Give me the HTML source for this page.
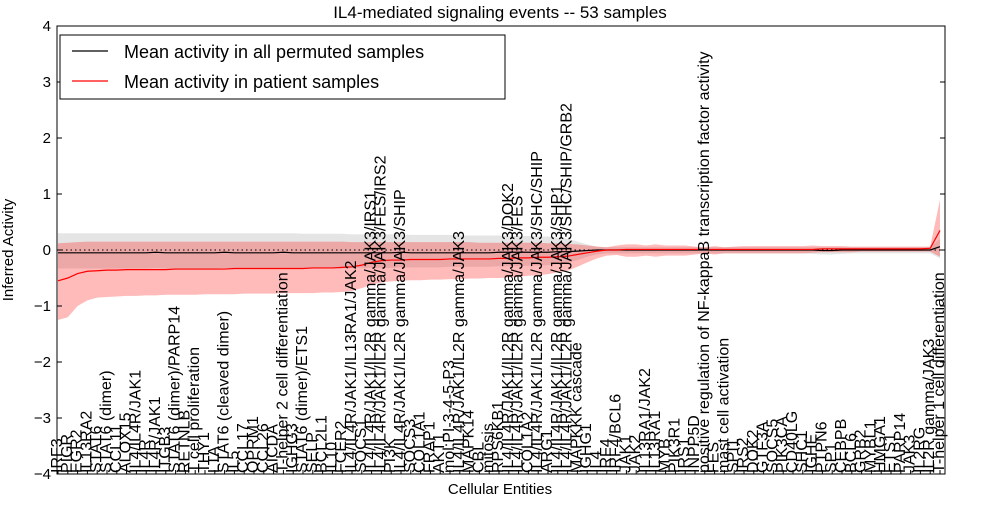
<!DOCTYPE html>
<html><head><meta charset="utf-8"><style>
body{margin:0;background:#fff;width:1000px;height:500px;overflow:hidden;font-family:"Liberation Sans",sans-serif}
</style></head><body>
<svg id="chart" width="1000" height="500" xmlns="http://www.w3.org/2000/svg" font-family="Liberation Sans, sans-serif">
<text x="500" y="18" font-size="17" text-anchor="middle">IL4-mediated signaling events -- 53 samples</text>
<g id="bands"></g><g id="lines"></g><g id="axes"></g>
<text x="500" y="494" font-size="15" text-anchor="middle">Cellular Entities</text>
<text transform="translate(13,250) rotate(-90)" font-size="15" text-anchor="middle">Inferred Activity</text>
<g>
<rect x="60" y="35" width="445" height="64" fill="#fff" stroke="#000" stroke-width="1"/>
<line x1="72" y1="51" x2="108" y2="51" stroke="#000" stroke-width="1.2"/>
<text x="124" y="58" font-size="18">Mean activity in all permuted samples</text>
<line x1="72" y1="81" x2="108" y2="81" stroke="red" stroke-width="1.2"/>
<text x="124" y="88" font-size="18">Mean activity in patient samples</text>
</g>
</svg>
<script>
const categories=["IRF3","PIGR","EGR2","IL13RA2","STAT6","STAT6 (dimer)","CCL11","ALOX15","IL4/IL4R/JAK1","IL4R","IL4R/JAK1","ITGB3","STAT6 (dimer)/PARP14","RETNLB","T cell proliferation","THY1","LTA","STAT6 (cleaved dimer)","IL5","CCL17","OPRM1","CCL26","AICDA","T-helper 2 cell differentiation","IGHG3","STAT6 (dimer)/ETS1","SELP","BCL2L1","IL10","FCER2","IL4/IL4R/JAK1/IL13RA1/JAK2","SOCS1","IL4/IL4R/JAK1/IL2R gamma/JAK3/IRS1","IL4/IL4R/JAK1/IL2R gamma/JAK3/FES/IRS2","PI3K","IL4/IL4R/JAK1/IL2R gamma/JAK3/SHIP","SOCS3","COL1A1","FRAP1","AKT1","mol:PI-3-4-5-P3","IL4/IL4R/JAK1/IL2R gamma/JAK3","MAPK14","CBL","mitosis","RPS6KB1","IL4/IL4R/JAK1/IL2R gamma/JAK3/DOK2","IL4/IL4R/JAK1/IL2R gamma/JAK3/FES","COL1A2","IL4/IL4R/JAK1/IL2R gamma/JAK3/SHC/SHIP","ARG1","IL4/IL4R/JAK1/IL2R gamma/JAK3/SHP1","IL4/IL4R/JAK1/IL2R gamma/JAK3/SHC/SHIP/GRB2","MAPKKK cascade","IGHG1","IL4","IRF4","IRF4/BCL6","JAK1","JAK2","IL13RA1/JAK2","IL13RA1","MYB","PIK3R1","IRS1","INPP5D","positive regulation of NF-kappaB transcription factor activity","FES","mast cell activation","SPI1","IRS2","DOK2","GTF3A","SOCS5","PIK3CA","CD40LG","SHC1","IGHE","PTPN6","SP1","CEBPB","BCL6","GRB2","MYBL1","HMGA1","ETS1","PARP14","JAK3","IL2RG","IL2R gamma/JAK3","T-helper 1 cell differentiation"];
const permMean=[-0.05,-0.05,-0.05,-0.05,-0.05,-0.05,-0.05,-0.05,-0.05,-0.05,-0.04,-0.05,-0.05,-0.05,-0.05,-0.05,-0.05,-0.04,-0.05,-0.05,-0.05,-0.05,-0.05,-0.04,-0.05,-0.05,-0.05,-0.05,-0.05,-0.05,-0.05,-0.05,-0.05,-0.05,-0.05,-0.04,-0.05,-0.05,-0.05,-0.05,-0.05,-0.05,-0.05,-0.05,-0.05,-0.04,-0.04,-0.04,-0.04,-0.04,-0.04,-0.03,-0.03,-0.02,-0.01,0.0,0.0,0.0,0.0,0.0,0.0,0.0,0.0,0.0,0.0,0.0,0.0,0.0,0.0,0.0,0.0,0.0,0.0,0.0,0.0,0.0,0.0,0.0,-0.01,-0.01,0.0,0.0,0.0,0.0,0.0,0.0,0.0,0.0,0.0,0.0,0.06];
const permLow=[-0.33,-0.33,-0.33,-0.33,-0.33,-0.33,-0.33,-0.33,-0.33,-0.33,-0.32,-0.33,-0.33,-0.33,-0.33,-0.33,-0.33,-0.32,-0.33,-0.33,-0.33,-0.33,-0.33,-0.32,-0.33,-0.33,-0.33,-0.33,-0.33,-0.33,-0.32,-0.32,-0.32,-0.32,-0.32,-0.31,-0.31,-0.31,-0.31,-0.31,-0.3,-0.3,-0.3,-0.3,-0.3,-0.29,-0.29,-0.29,-0.28,-0.28,-0.27,-0.25,-0.22,-0.18,-0.12,-0.08,-0.06,-0.06,-0.06,-0.06,-0.06,-0.06,-0.06,-0.06,-0.06,-0.06,-0.06,-0.06,-0.06,-0.06,-0.06,-0.06,-0.06,-0.06,-0.06,-0.06,-0.06,-0.07,-0.08,-0.08,-0.07,-0.06,-0.06,-0.06,-0.06,-0.06,-0.06,-0.06,-0.06,-0.06,-0.15];
const permHigh=[0.3,0.3,0.3,0.3,0.3,0.3,0.3,0.3,0.3,0.3,0.3,0.3,0.3,0.3,0.3,0.3,0.3,0.3,0.3,0.3,0.3,0.3,0.3,0.3,0.3,0.29,0.29,0.29,0.29,0.29,0.28,0.28,0.28,0.28,0.28,0.28,0.27,0.27,0.27,0.27,0.27,0.26,0.26,0.26,0.26,0.26,0.25,0.25,0.25,0.24,0.24,0.22,0.2,0.15,0.1,0.06,0.05,0.05,0.05,0.05,0.05,0.05,0.05,0.05,0.05,0.05,0.05,0.05,0.05,0.05,0.05,0.05,0.05,0.05,0.05,0.05,0.05,0.05,0.05,0.05,0.05,0.05,0.05,0.05,0.05,0.05,0.05,0.05,0.05,0.05,0.2];
const patMean=[-0.55,-0.5,-0.42,-0.38,-0.37,-0.36,-0.36,-0.35,-0.35,-0.35,-0.35,-0.35,-0.34,-0.34,-0.34,-0.34,-0.34,-0.34,-0.33,-0.33,-0.33,-0.33,-0.33,-0.33,-0.33,-0.33,-0.32,-0.32,-0.32,-0.31,-0.3,-0.27,-0.22,-0.19,-0.18,-0.18,-0.17,-0.17,-0.17,-0.17,-0.16,-0.16,-0.16,-0.16,-0.16,-0.15,-0.15,-0.14,-0.14,-0.13,-0.13,-0.12,-0.11,-0.08,-0.05,-0.02,0.0,0.0,0.01,0.01,0.01,0.01,0.01,0.01,0.01,0.01,0.01,0.01,0.01,0.01,0.01,0.01,0.01,0.01,0.01,0.01,0.01,0.01,0.02,0.02,0.02,0.02,0.02,0.02,0.02,0.02,0.02,0.02,0.02,0.03,0.35];
const patLow=[-1.25,-1.2,-1.0,-0.9,-0.85,-0.84,-0.83,-0.82,-0.82,-0.81,-0.81,-0.8,-0.8,-0.8,-0.8,-0.79,-0.79,-0.79,-0.79,-0.78,-0.78,-0.78,-0.78,-0.77,-0.77,-0.77,-0.77,-0.76,-0.76,-0.75,-0.73,-0.68,-0.62,-0.58,-0.56,-0.55,-0.54,-0.54,-0.53,-0.53,-0.52,-0.52,-0.51,-0.51,-0.5,-0.5,-0.49,-0.48,-0.46,-0.45,-0.43,-0.4,-0.37,-0.3,-0.22,-0.15,-0.1,-0.09,-0.12,-0.12,-0.1,-0.12,-0.1,-0.1,-0.1,-0.08,-0.06,-0.08,-0.06,-0.06,-0.06,-0.06,-0.06,-0.06,-0.06,-0.06,-0.06,-0.05,-0.04,-0.04,-0.04,-0.04,-0.03,-0.03,-0.03,-0.03,-0.03,-0.03,-0.03,-0.03,-0.12];
const patHigh=[0.12,0.13,0.14,0.15,0.15,0.15,0.15,0.15,0.15,0.15,0.15,0.15,0.15,0.15,0.15,0.15,0.15,0.15,0.15,0.15,0.15,0.15,0.15,0.15,0.15,0.15,0.15,0.15,0.15,0.15,0.14,0.14,0.14,0.14,0.14,0.14,0.14,0.14,0.14,0.14,0.14,0.14,0.14,0.13,0.13,0.13,0.13,0.13,0.13,0.13,0.12,0.12,0.11,0.1,0.08,0.06,0.05,0.08,0.1,0.1,0.08,0.1,0.08,0.08,0.08,0.06,0.05,0.07,0.05,0.06,0.07,0.07,0.07,0.07,0.07,0.07,0.07,0.08,0.07,0.07,0.07,0.06,0.06,0.06,0.06,0.06,0.06,0.06,0.06,0.06,0.9];
const yTicks=[-4,-3,-2,-1,0,1,2,3,4];
const NS="http://www.w3.org/2000/svg";
const L=57,R=945,T=26,B=474;
const xs=i=>58+i*(940-58)/(categories.length-1);
const ys=v=>250-v*(B-T)/8;
function mk(tag,attrs,parent){const e=document.createElementNS(NS,tag);for(const k in attrs)e.setAttribute(k,attrs[k]);parent.appendChild(e);return e;}
const bands=document.getElementById('bands'),lines=document.getElementById('lines'),axes=document.getElementById('axes');
function bandPath(lo,hi){let d='';hi.forEach((v,i)=>d+=(i?'L':'M')+xs(i)+','+ys(v));for(let i=lo.length-1;i>=0;i--)d+='L'+xs(i)+','+ys(lo[i]);return d+'Z';}
function linePath(a){return a.map((v,i)=>(i?'L':'M')+xs(i)+','+ys(v)).join('');}
const pb=mk('path',{d:bandPath(permLow,permHigh),fill:'#999',opacity:'0.25'},bands);


const rb=mk('path',{d:bandPath(patLow,patHigh),fill:'#f00',opacity:'0.27'},bands);


const zl=mk('line',{x1:L,x2:R,y1:ys(0),y2:ys(0),stroke:'#000','stroke-dasharray':'1.5,3','stroke-width':1},lines);


const pl=mk('path',{d:linePath(permMean),fill:'none',stroke:'#000','stroke-width':1.2},lines);


const rl=mk('path',{d:linePath(patMean),fill:'none',stroke:'#f00','stroke-width':1.2},lines);


const fr=mk('rect',{x:L,y:T,width:R-L,height:B-T,fill:'none',stroke:'#000','stroke-width':1},axes);


yTicks.forEach(t=>{const y=ys(t);
 mk('line',{x1:L,x2:L+5,y1:y,y2:y,stroke:'#000'},axes);mk('line',{x1:R-5,x2:R,y1:y,y2:y,stroke:'#000'},axes);
 const tx=mk('text',{x:L-6,y:y+5,'font-size':15,'text-anchor':'end'},axes);tx.textContent=(t<0?'\u2212':'')+Math.abs(t);
 
 });
categories.forEach((c,i)=>{const x=xs(i);
 mk('line',{x1:x,x2:x,y1:B,y2:B-4,stroke:'#000'},axes);
 const tx=mk('text',{transform:`translate(${x+4},${B-1}) rotate(-90)`,'font-size':16},axes);tx.textContent=c;
 
 });
</script>
</body></html>
